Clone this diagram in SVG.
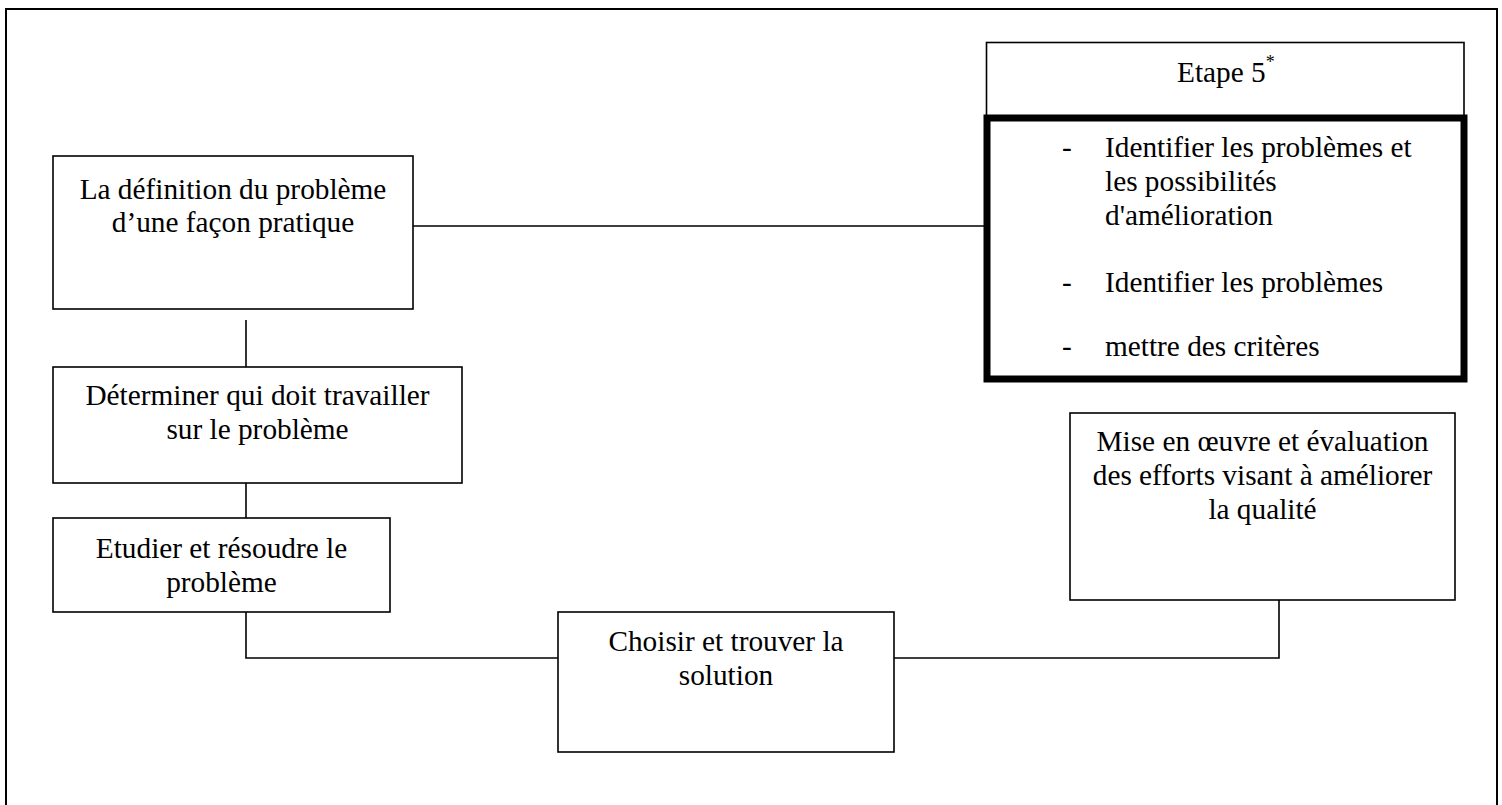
<svg xmlns="http://www.w3.org/2000/svg" width="1502" height="805" viewBox="0 0 1502 805">
<style>
.box{fill:#fff;stroke:#000;stroke-width:1.6}
.thick{fill:#fff;stroke:#000;stroke-width:7}
.t{font-family:"Liberation Serif","Times New Roman",serif;font-size:29.3px;fill:#000}
.c{text-anchor:middle}
.conn{fill:none;stroke:#000;stroke-width:1.6}
</style>
<rect width="1502" height="805" fill="#fff"/>
<path d="M6,810 V9 H1497 V810" fill="none" stroke="#000" stroke-width="2"/>
<g id="connectors">
<path class="conn" d="M413,226 H986"/>
<path class="conn" d="M246,320 V367"/>
<path class="conn" d="M246,472 V518"/>
<path class="conn" d="M246,612 V658 H558"/>
<path class="conn" d="M894,658 H1279 V600"/>
</g>
<g id="n1">
<rect class="box" x="53" y="156" width="360" height="153"/>
<text class="t c" x="233" y="199">La définition du problème</text>
<text class="t c" x="233" y="232">d’une façon pratique</text>
</g>
<g id="n2">
<rect class="box" x="53" y="367" width="409" height="116"/>
<text class="t c" x="257.5" y="405">Déterminer qui doit travailler</text>
<text class="t c" x="257.5" y="439">sur le problème</text>
</g>
<g id="n3">
<rect class="box" x="53" y="518" width="337" height="94"/>
<text class="t c" x="221.5" y="558">Etudier et résoudre le</text>
<text class="t c" x="221.5" y="592">problème</text>
</g>
<g id="n4">
<rect class="box" x="558" y="612" width="336" height="140"/>
<text class="t c" x="726" y="651">Choisir et trouver la</text>
<text class="t c" x="726" y="685">solution</text>
</g>
<g id="n5">
<rect class="box" x="1070" y="413" width="385" height="187"/>
<text class="t c" x="1262.5" y="451">Mise en œuvre et évaluation</text>
<text class="t c" x="1262.5" y="485">des efforts visant à améliorer</text>
<text class="t c" x="1262.5" y="519">la qualité</text>
</g>
<g id="n6">
<rect class="box" x="986.5" y="42.5" width="477.5" height="75.5"/>
<text class="t" x="1177" y="82">Etape 5<tspan dy="-14" font-size="18">*</tspan></text>
<rect class="thick" x="987" y="118" width="477" height="261"/>
<text class="t" x="1062" y="157">-</text>
<text class="t" x="1105" y="157">Identifier les problèmes et</text>
<text class="t" x="1105" y="191">les possibilités</text>
<text class="t" x="1105" y="224.5">d'amélioration</text>
<text class="t" x="1062" y="292">-</text>
<text class="t" x="1105" y="292">Identifier les problèmes</text>
<text class="t" x="1062" y="356">-</text>
<text class="t" x="1105" y="356">mettre des critères</text>
</g>
</svg>
